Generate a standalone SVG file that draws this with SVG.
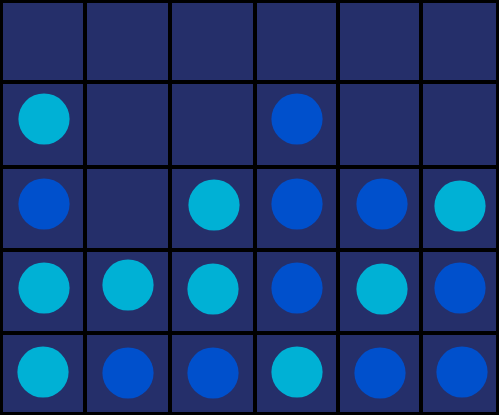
<svg xmlns="http://www.w3.org/2000/svg" width="499" height="415" viewBox="0 0 499 415">
<style>
.cell{fill:#252f6a}
.c{fill:#00b1d5}
.b{fill:#0050cc}
</style>
<rect x="0" y="0" width="499" height="415" fill="#000"/>
<g id="grid">
<rect class="cell" x="3" y="3" width="80" height="77"/><rect class="cell" x="87" y="3" width="81" height="77"/><rect class="cell" x="172" y="3" width="81" height="77"/><rect class="cell" x="257" y="3" width="79" height="77"/><rect class="cell" x="340" y="3" width="79" height="77"/><rect class="cell" x="423" y="3" width="73" height="77"/>
<rect class="cell" x="3" y="84" width="80" height="81"/><rect class="cell" x="87" y="84" width="81" height="81"/><rect class="cell" x="172" y="84" width="81" height="81"/><rect class="cell" x="257" y="84" width="79" height="81"/><rect class="cell" x="340" y="84" width="79" height="81"/><rect class="cell" x="423" y="84" width="73" height="81"/>
<rect class="cell" x="3" y="169" width="80" height="79"/><rect class="cell" x="87" y="169" width="81" height="79"/><rect class="cell" x="172" y="169" width="81" height="79"/><rect class="cell" x="257" y="169" width="79" height="79"/><rect class="cell" x="340" y="169" width="79" height="79"/><rect class="cell" x="423" y="169" width="73" height="79"/>
<rect class="cell" x="3" y="252" width="80" height="79"/><rect class="cell" x="87" y="252" width="81" height="79"/><rect class="cell" x="172" y="252" width="81" height="79"/><rect class="cell" x="257" y="252" width="79" height="79"/><rect class="cell" x="340" y="252" width="79" height="79"/><rect class="cell" x="423" y="252" width="73" height="79"/>
<rect class="cell" x="3" y="335" width="80" height="77"/><rect class="cell" x="87" y="335" width="81" height="77"/><rect class="cell" x="172" y="335" width="81" height="77"/><rect class="cell" x="257" y="335" width="79" height="77"/><rect class="cell" x="340" y="335" width="79" height="77"/><rect class="cell" x="423" y="335" width="73" height="77"/>
</g>
<g id="discs">
<circle class="c" cx="44" cy="119" r="25.6"/><circle class="b" cx="297" cy="119" r="25.6"/>
<circle class="b" cx="44" cy="204" r="25.6"/><circle class="c" cx="214" cy="205" r="25.6"/><circle class="b" cx="297" cy="204" r="25.6"/><circle class="b" cx="382" cy="204" r="25.6"/><circle class="c" cx="460" cy="206" r="25.6"/>
<circle class="c" cx="44" cy="288" r="25.6"/><circle class="c" cx="128" cy="285" r="25.6"/><circle class="c" cx="213" cy="289" r="25.6"/><circle class="b" cx="297" cy="288" r="25.6"/><circle class="c" cx="382" cy="289" r="25.6"/><circle class="b" cx="460" cy="288" r="25.6"/>
<circle class="c" cx="43" cy="372" r="25.6"/><circle class="b" cx="128" cy="373" r="25.6"/><circle class="b" cx="213" cy="373" r="25.6"/><circle class="c" cx="297" cy="372" r="25.6"/><circle class="b" cx="380" cy="373" r="25.6"/><circle class="b" cx="462" cy="372" r="25.6"/>
</g>
</svg>
